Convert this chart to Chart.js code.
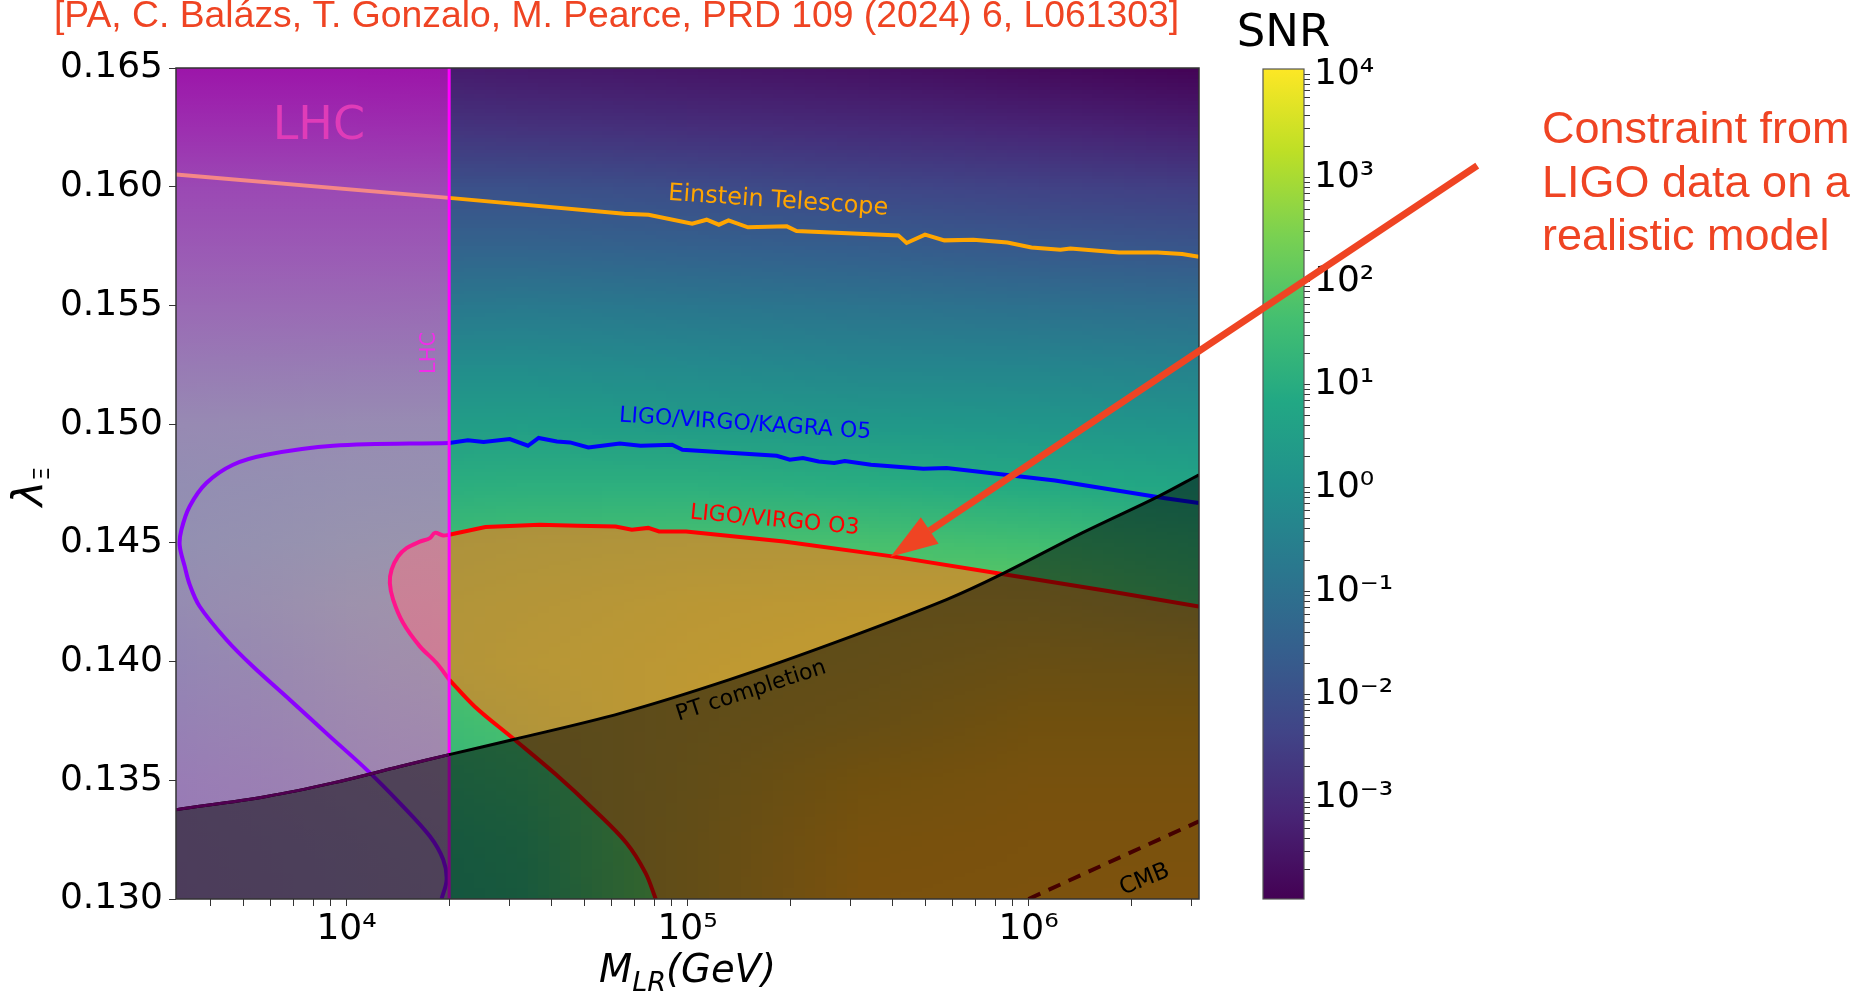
<!DOCTYPE html>
<html>
<head>
<meta charset="utf-8">
<script src="https://cdn.jsdelivr.net/npm/chart.js@4.4.1/dist/chart.umd.min.js"></script>
<style>
  html, body { margin: 0; padding: 0; background: #fff; }
  #wrap { position: relative; width: 1875px; height: 991px; }
  #wrap canvas { position: absolute; top: 0; }
  #cb { left: 1200px; }
  #main { left: 0; }
</style>
</head>
<body>
<div id="wrap">
  <canvas id="cb" width="400" height="991"></canvas>
  <canvas id="main" width="1875" height="991"></canvas>
</div>
<script>
// SNR map: log10 SNR on a grid of log10(M_LR) columns x lambda rows (top -> bottom)
const gridLogM = [3.5, 4.0, 4.5, 5.0, 5.5, 6.0, 6.5];
const gridLambda = [0.165, 0.1625, 0.160, 0.1575, 0.155, 0.1525, 0.150, 0.1475, 0.145, 0.1425, 0.140, 0.1375, 0.135, 0.1325, 0.130];
const logSNR = [
  [-3.3, -3.3, -3.4, -3.5, -3.6, -3.75, -3.9],
  [-2.7, -2.7, -2.8, -2.9, -3.0, -3.15, -3.3],
  [-2.0, -2.0, -2.0, -2.1, -2.25, -2.4, -2.5],
  [-1.4, -1.4, -1.4, -1.5, -1.6, -1.75, -1.85],
  [-0.8, -0.75, -0.7, -0.8, -0.9, -1.0, -1.1],
  [-0.2, -0.1, -0.1, -0.2, -0.3, -0.35, -0.45],
  [0.3, 0.45, 0.5, 0.4, 0.3, 0.25, 0.15],
  [0.8, 1.0, 1.1, 1.1, 1.0, 0.9, 0.75],
  [1.1, 1.4, 1.6, 1.7, 1.7, 1.6, 1.3],
  [1.1, 1.6, 1.8, 2.0, 2.1, 2.1, 1.7],
  [0.9, 1.5, 1.9, 2.1, 2.3, 2.7, 2.6],
  [0.7, 1.3, 1.7, 2.2, 2.6, 3.2, 3.2],
  [0.5, 1.1, 1.5, 2.3, 3.2, 3.6, 3.6],
  [0.3, 0.9, 1.3, 2.4, 3.6, 3.8, 3.8],
  [0.2, 0.8, 1.2, 2.4, 3.8, 3.9, 4.0]
];
const snrMin = -3.98, snrMax = 4.055;   // colour bar range (log10)

// axes
const xMin = Math.pow(10, 3.5), xMax = Math.pow(10, 6.5);
const yTicks = [0.130, 0.135, 0.140, 0.145, 0.150, 0.155, 0.160, 0.165];
const lhcM = 20000;

// Einstein Telescope contour
const etLhcM = [3162, 20000];
const etLhcL = [0.16051, 0.15953];
const etM = [20000, 65240, 76850, 103200, 113800, 123600, 131900, 150400, 195600, 208800, 415100, 439100, 497200, 566500, 689100, 867200, 1020000, 1241000, 1327000, 1843000, 2389000, 2822000, 3162000];
const etL = [0.15953, 0.15886, 0.15882, 0.15844, 0.15861, 0.15840, 0.15858, 0.15829, 0.15833, 0.15813, 0.15795, 0.15763, 0.15798, 0.15774, 0.15777, 0.15765, 0.15744, 0.15735, 0.15740, 0.15723, 0.15723, 0.15717, 0.15705];

// LIGO/VIRGO/KAGRA O5 contour
const o5LhcM = [20000, 9135, 5825, 4648, 3882, 3469, 3280, 3242, 3353, 3469, 3711, 4444, 5309, 6817, 8933, 11450, 14335, 17560, 19210, 19660, 19000];
const o5LhcL = [0.14921, 0.14909, 0.14871, 0.14829, 0.14752, 0.14654, 0.14555, 0.14490, 0.14401, 0.14324, 0.14232, 0.14092, 0.13980, 0.13839, 0.13685, 0.13545, 0.13404, 0.13264, 0.13166, 0.13081, 0.13000];
const o5M = [20000, 22700, 25240, 30110, 34050, 36590, 41400, 45230, 51190, 63290, 72890, 90120, 96670, 182700, 199500, 218000, 242400, 269400, 289300, 345100, 491500, 574900, 1196000, 2489000, 3162000];
const o5L = [0.14921, 0.14932, 0.14925, 0.14937, 0.14909, 0.14942, 0.14927, 0.14923, 0.14902, 0.14918, 0.14909, 0.14913, 0.14892, 0.14867, 0.14850, 0.14857, 0.14843, 0.14836, 0.14845, 0.14829, 0.14812, 0.14815, 0.14763, 0.14689, 0.14668];

// LIGO/VIRGO O3 contour (nose inside LHC band, lower and upper branches)
const o3LhcM = [20000, 19210, 18160, 17560, 16410, 15000, 14170, 13560, 13400, 13700, 14660, 16410, 18370, 20000];
const o3LhcL = [0.14534, 0.14531, 0.14542, 0.14520, 0.14505, 0.14478, 0.14443, 0.14387, 0.14331, 0.14261, 0.14162, 0.14064, 0.13994, 0.13924];
const o3LowM = [20000, 23750, 30690, 41150, 53180, 66220, 75300, 80690];
const o3LowL = [0.13924, 0.13811, 0.13678, 0.13524, 0.13376, 0.13236, 0.13110, 0.13000];
const o3UpM = [20000, 25550, 36860, 47610, 61550, 68680, 76680, 82530, 99060, 191600, 398600, 829100, 1726000, 3162000];
const o3UpL = [0.14534, 0.14567, 0.14576, 0.14572, 0.14569, 0.14555, 0.14563, 0.14548, 0.14548, 0.14506, 0.14443, 0.14370, 0.14296, 0.14232];

// phase transition completion boundary
const ptM = [3162, 5825, 9135, 14335, 20000, 30690, 63860, 132800, 276300, 574900, 829100, 1437000, 2390000, 3162000];
const ptL = [0.13376, 0.13432, 0.13489, 0.13558, 0.13608, 0.13671, 0.13783, 0.13924, 0.14085, 0.14261, 0.14366, 0.14542, 0.14694, 0.14787];

// CMB bound
const cmbM = [1000000, 3162000];
const cmbL = [0.130, 0.13327];

// annotation arrow (tail, tip)
const arrowFrom = [2.07e7, 0.16089];
const arrowTo = [3.94e5, 0.14442];

// colours
const viridis = ['#440154', '#482475', '#414487', '#355f8d', '#2a788e', '#21918c', '#22a884', '#44bf70', '#7ad151', '#bddf26', '#fde725'];
const lhcStopL = [0.165, 0.160, 0.155, 0.150, 0.145, 0.140, 0.135, 0.130];
const lhcStopColor = ['rgba(213,16,208,0.6)', 'rgba(219,67,208,0.6)', 'rgba(229,97,207,0.6)', 'rgba(230,128,207,0.6)',
  'rgba(215,123,212,0.6)', 'rgba(222,110,212,0.6)', 'rgba(232,102,212,0.6)', 'rgba(232,102,212,0.6)'];
const accent = '#ef4423';

const curveLabels = [
  { text: 'Einstein Telescope', m: 1.845e5, l: 0.1594, rot: 3.9, color: '#ffa500', size: 24 },
  { text: 'LIGO/VIRGO/KAGRA O5', m: 1.476e5, l: 0.1500, rot: 3.8, color: '#0000ff', size: 22 },
  { text: 'LIGO/VIRGO O3', m: 1.801e5, l: 0.14594, rot: 5.3, color: '#ff0000', size: 22 },
  { text: 'PT completion', m: 1.537e5, l: 0.13875, rot: -18, color: '#000000', size: 22 },
  { text: 'CMB', m: 2.191e6, l: 0.13081, rot: -22, color: '#000000', size: 23 },
  { text: 'LHC', m: 17525, l: 0.1530, rot: -90, color: '#f02ee8', size: 21 },
  { text: 'LHC', m: 8300, l: 0.1625, rot: 0, color: '#e03cb8', size: 46 }
];

function pts(ms, ls) { return ms.map((m, i) => ({ x: m, y: ls[i] })); }
function hexRgb(h) { return [1, 3, 5].map(i => parseInt(h.slice(i, i + 2), 16)); }
function viridisRGB(t) {
  t = Math.min(1, Math.max(0, t));
  const s = t * (viridis.length - 1);
  const i = Math.min(Math.floor(s), viridis.length - 2), f = s - i;
  const a = hexRgb(viridis[i]), b = hexRgb(viridis[i + 1]);
  return a.map((v, k) => Math.round(v + (b[k] - v) * f));
}
const supMap = { '-': '\u207B', '0': '\u2070', '1': '\u00B9', '2': '\u00B2', '3': '\u00B3', '4': '\u2074', '5': '\u2075', '6': '\u2076', '7': '\u2077', '8': '\u2078', '9': '\u2079' };
function pow10Label(v) {
  const e = Math.log10(v);
  if (Math.abs(e - Math.round(e)) > 1e-6) return '';
  return '10' + String(Math.round(e)).split('').map(c => supMap[c]).join('');
}
function logTicks(lo, hi) {
  const out = [];
  for (let n = Math.floor(Math.log10(lo)); n <= Math.ceil(Math.log10(hi)); n++) {
    for (let k = 1; k <= 9; k++) {
      const v = k * Math.pow(10, n);
      if (v >= lo * 0.9999 && v <= hi * 1.0001) out.push(v);
    }
  }
  return out;
}

Chart.defaults.font.family = "'DejaVu Sans'";
Chart.defaults.color = '#000';

// O3 excluded region as one closed shape
const o3Shape = [].concat(
  pts(o3LowM, o3LowL).reverse(),
  pts(o3LhcM, o3LhcL).reverse().slice(1),
  pts(o3UpM, o3UpL).slice(1),
  [{ x: o3UpM[o3UpM.length - 1], y: 0.130 }, { x: o3LowM[o3LowM.length - 1], y: 0.130 }]
);

const mapPlugin = {
  id: 'snrMap',
  beforeDatasetsDraw(chart) {
    const { ctx, chartArea: a, scales: { x, y } } = chart;
    const nx = gridLogM.length, ny = gridLambda.length;
    const off = document.createElement('canvas');
    off.width = nx; off.height = ny;
    const octx = off.getContext('2d');
    const img = octx.createImageData(nx, ny);
    for (let r = 0; r < ny; r++) {
      for (let c = 0; c < nx; c++) {
        const rgb = viridisRGB((logSNR[r][c] - snrMin) / (snrMax - snrMin));
        const p = (r * nx + c) * 4;
        img.data[p] = rgb[0]; img.data[p + 1] = rgb[1]; img.data[p + 2] = rgb[2]; img.data[p + 3] = 255;
      }
    }
    octx.putImageData(img, 0, 0);
    const dM = (gridLogM[1] - gridLogM[0]) / 2, dL = (gridLambda[0] - gridLambda[1]) / 2;
    const x0 = x.getPixelForValue(Math.pow(10, gridLogM[0] - dM));
    const x1 = x.getPixelForValue(Math.pow(10, gridLogM[nx - 1] + dM));
    const y0 = y.getPixelForValue(gridLambda[0] + dL);
    const y1 = y.getPixelForValue(gridLambda[ny - 1] - dL);
    ctx.save();
    ctx.beginPath();
    ctx.rect(a.left, a.top, a.right - a.left, a.bottom - a.top);
    ctx.clip();
    ctx.imageSmoothingEnabled = true;
    ctx.drawImage(off, x0, y0, x1 - x0, y1 - y0);
    ctx.restore();
  },
  afterDatasetsDraw(chart) {
    const { ctx, chartArea: a, scales: { x, y } } = chart;
    ctx.save();
    curveLabels.forEach(lb => {
      ctx.save();
      ctx.translate(x.getPixelForValue(lb.m), y.getPixelForValue(lb.l));
      ctx.rotate(lb.rot * Math.PI / 180);
      ctx.font = lb.size + "px 'DejaVu Sans'";
      ctx.fillStyle = lb.color;
      ctx.textAlign = 'center';
      ctx.textBaseline = 'middle';
      ctx.fillText(lb.text, 0, 0);
      ctx.restore();
    });
    ctx.strokeStyle = '#333';
    ctx.lineWidth = 1.5;
    ctx.strokeRect(a.left, a.top, a.right - a.left, a.bottom - a.top);
    ctx.restore();
  },
  afterDraw(chart) {
    const { ctx, chartArea: a, scales: { x, y } } = chart;
    ctx.save();
    ctx.fillStyle = '#000';
    ctx.textBaseline = 'alphabetic';
    ctx.textAlign = 'left';
    // x title: M_LR(GeV)
    const parts = [['M', 38.5, 0], ['LR', 27, 9], ['(GeV)', 38.5, 0]];
    let total = 0;
    parts.forEach(p => { ctx.font = 'italic ' + p[1] + "px 'DejaVu Sans'"; total += ctx.measureText(p[0]).width; });
    let cx = (a.left + a.right) / 2 - total / 2;
    parts.forEach(p => {
      ctx.font = 'italic ' + p[1] + "px 'DejaVu Sans'";
      ctx.fillText(p[0], cx, a.bottom + 83 + p[2]);
      cx += ctx.measureText(p[0]).width;
    });
    // y title: lambda_Xi
    ctx.save();
    ctx.translate(43, (a.top + a.bottom) / 2 + 3);
    ctx.rotate(-Math.PI / 2);
    ctx.font = "italic 43px 'DejaVu Sans'";
    const wl = ctx.measureText('\u03BB').width;
    ctx.font = "22px 'DejaVu Sans'";
    const wx = ctx.measureText('\u039E').width;
    ctx.font = "italic 43px 'DejaVu Sans'";
    ctx.fillText('\u03BB', -(wl + wx) / 2, 0);
    ctx.font = "22px 'DejaVu Sans'";
    ctx.fillText('\u039E', -(wl + wx) / 2 + wl, 6);
    ctx.restore();
    // citation
    ctx.fillStyle = accent;
    ctx.font = "37.3px 'Liberation Sans'";
    ctx.fillText('[PA, C. Bal\u00E1zs, T. Gonzalo, M. Pearce, PRD 109 (2024) 6, L061303]', 54, 27);
    // annotation text
    ctx.font = "45px 'Liberation Sans'";
    ['Constraint from', 'LIGO data on a', 'realistic model'].forEach((t, i) => ctx.fillText(t, 1542, 143 + i * 53.5));
    // arrow
    const x0 = x.getPixelForValue(arrowFrom[0]), y0 = y.getPixelForValue(arrowFrom[1]);
    const x1 = x.getPixelForValue(arrowTo[0]), y1 = y.getPixelForValue(arrowTo[1]);
    const ang = Math.atan2(y1 - y0, x1 - x0);
    const headLen = 47, headW = 16;
    const bx = x1 - headLen * Math.cos(ang), by = y1 - headLen * Math.sin(ang);
    ctx.strokeStyle = accent;
    ctx.lineWidth = 7;
    ctx.beginPath(); ctx.moveTo(x0, y0); ctx.lineTo(bx, by); ctx.stroke();
    ctx.beginPath();
    ctx.moveTo(x1, y1);
    ctx.lineTo(bx + headW * Math.sin(ang), by - headW * Math.cos(ang));
    ctx.lineTo(bx - headW * Math.sin(ang), by + headW * Math.cos(ang));
    ctx.closePath();
    ctx.fill();
    ctx.restore();
  }
};

function line(data, color, width, order, extra) {
  return Object.assign({ data: data, borderColor: color, borderWidth: width, fill: false, order: order, pointRadius: 0 }, extra || {});
}

new Chart(document.getElementById('main'), {
  type: 'line',
  data: {
    datasets: [
      line(o3Shape, 'rgba(0,0,0,0)', 0, 90, { fill: 'shape', backgroundColor: 'rgba(255,118,20,0.58)' }),
      line([{ x: xMin, y: 0.165 }, { x: lhcM, y: 0.165 }], 'rgba(0,0,0,0)', 0, 80, {
        fill: 'start',
        backgroundColor: function (c) {
          const ch = c.chart;
          if (!ch.chartArea) return 'rgba(0,0,0,0)';
          const ys = ch.scales.y;
          const p0 = ys.getPixelForValue(lhcStopL[0]), p1 = ys.getPixelForValue(lhcStopL[lhcStopL.length - 1]);
          const g = ch.ctx.createLinearGradient(0, p0, 0, p1);
          lhcStopL.forEach((l, i) => g.addColorStop((ys.getPixelForValue(l) - p0) / (p1 - p0), lhcStopColor[i]));
          return g;
        }
      }),
      line(pts(etLhcM, etLhcL), '#f58787', 4, 60),
      line(pts(etM, etL), '#ffa500', 4, 60),
      line(pts(o5LhcM, o5LhcL), '#8c00ff', 4, 60, { tension: 0.35 }),
      line(pts(o5M, o5L), '#0000ff', 4, 60),
      line(pts(o3LhcM, o3LhcL), '#ff148c', 4, 60, { tension: 0.35 }),
      line(pts(o3LowM, o3LowL), '#ff0000', 4, 60, { tension: 0.35 }),
      line(pts(o3UpM, o3UpL), '#ff0000', 4, 60),
      line(pts(cmbM, cmbL), '#8b0000', 4, 55, { borderDash: [13, 9] }),
      line([{ x: lhcM, y: 0.130 }, { x: lhcM, y: 0.165 }], '#ff00ff', 3, 50),
      line(pts(ptM, ptL), '#000000', 3, 30, { fill: 'start', backgroundColor: 'rgba(0,0,0,0.5)', tension: 0.35 }),
      line(pts(ptM, ptL).filter(p => p.x <= lhcM), '#500050', 3, 20, { tension: 0.35 })
    ]
  },
  options: {
    responsive: false,
    animation: false,
    layout: { padding: { left: 0, top: 68, right: 676, bottom: 0 } },
    plugins: { legend: { display: false }, tooltip: { enabled: false } },
    scales: {
      x: {
        type: 'logarithmic', min: xMin, max: xMax,
        afterFit(s) { s.height = 92; },
        afterBuildTicks(s) { s.ticks = logTicks(xMin, xMax).map(v => ({ value: v })); },
        grid: { drawOnChartArea: false, tickLength: 7, tickColor: '#333' },
        border: { display: false },
        ticks: { callback: v => pow10Label(v), font: { size: 36 }, color: '#000', padding: 2, autoSkip: false, maxRotation: 0, minRotation: 0 }
      },
      y: {
        type: 'linear', min: 0.130, max: 0.165,
        afterFit(s) { s.width = 176; },
        afterBuildTicks(s) { s.ticks = yTicks.map(v => ({ value: v })); },
        grid: { drawOnChartArea: false, tickLength: 7, tickColor: '#333' },
        border: { display: false },
        ticks: { callback: v => v.toFixed(3), font: { size: 36 }, color: '#000', padding: 6, autoSkip: false }
      }
    }
  },
  plugins: [mapPlugin]
});

// colour bar
const cbPlugin = {
  id: 'cbar',
  beforeDatasetsDraw(chart) {
    const { ctx, chartArea: a, scales: { y } } = chart;
    const yTop = y.getPixelForValue(Math.pow(10, snrMax)), yBot = y.getPixelForValue(Math.pow(10, snrMin));
    const g = ctx.createLinearGradient(0, yBot, 0, yTop);
    viridis.forEach((c, i) => g.addColorStop(i / (viridis.length - 1), c));
    ctx.save();
    ctx.fillStyle = g;
    ctx.fillRect(a.left, yTop, a.right - a.left, yBot - yTop);
    ctx.strokeStyle = '#555';
    ctx.lineWidth = 1.2;
    ctx.strokeRect(a.left, yTop, a.right - a.left, yBot - yTop);
    ctx.fillStyle = '#000';
    ctx.font = "45px 'DejaVu Sans'";
    ctx.textAlign = 'center';
    ctx.textBaseline = 'alphabetic';
    ctx.fillText('SNR', (a.left + a.right) / 2, a.top - 23);
    ctx.restore();
  }
};

new Chart(document.getElementById('cb'), {
  type: 'scatter',
  data: { datasets: [] },
  options: {
    responsive: false,
    animation: false,
    layout: { padding: { left: 63, top: 69, bottom: 92, right: 0 } },
    plugins: { legend: { display: false }, tooltip: { enabled: false } },
    scales: {
      x: { display: false, min: 0, max: 1 },
      y: {
        type: 'logarithmic', position: 'right',
        min: Math.pow(10, snrMin), max: Math.pow(10, snrMax),
        afterFit(s) { s.width = 296; },
        afterBuildTicks(s) { s.ticks = logTicks(Math.pow(10, snrMin), Math.pow(10, snrMax)).map(v => ({ value: v })); },
        grid: { drawOnChartArea: false, tickLength: 6, tickColor: '#333' },
        border: { display: false },
        ticks: { callback: v => pow10Label(v), font: { size: 36 }, color: '#000', padding: 4, autoSkip: false }
      }
    }
  },
  plugins: [cbPlugin]
});
</script>
</body>
</html>
